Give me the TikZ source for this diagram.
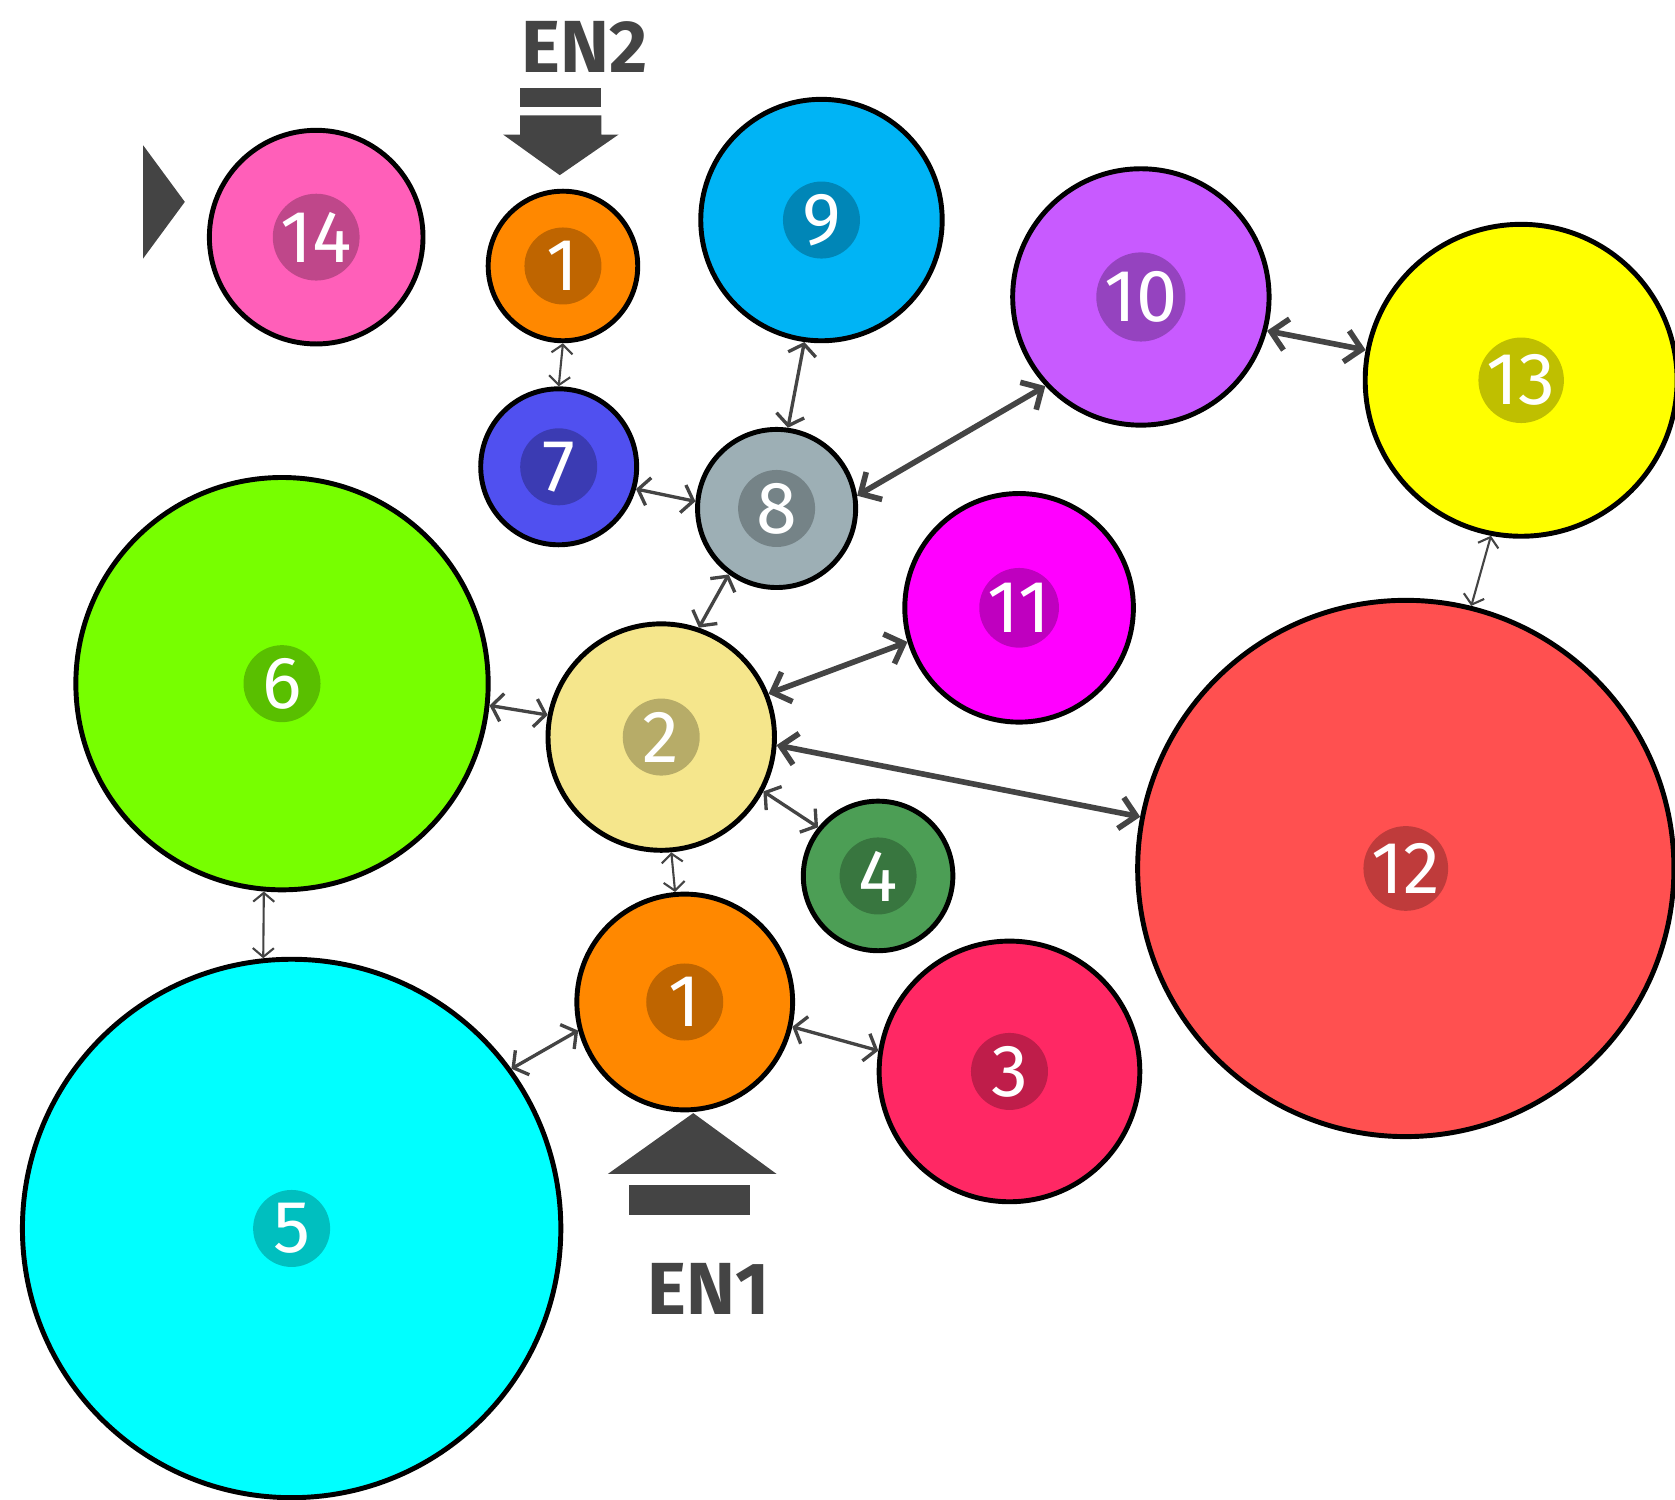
\documentclass[tikz,border=0pt]{standalone}
\usepackage{fontspec}
\setmainfont{Fira Sans}
\usetikzlibrary{arrows.meta}
\definecolor{dk}{RGB}{68,68,68}
\definecolor{c1}{RGB}{255,136,0}
\definecolor{c2}{RGB}{245,230,140}
\definecolor{c3}{RGB}{255,40,100}
\definecolor{c4}{RGB}{76,158,85}
\definecolor{c5}{RGB}{0,255,255}
\definecolor{c6}{RGB}{119,255,0}
\definecolor{c7}{RGB}{80,80,240}
\definecolor{c8}{RGB}{157,175,181}
\definecolor{c9}{RGB}{0,180,245}
\definecolor{c10}{RGB}{200,90,255}
\definecolor{c11}{RGB}{255,0,255}
\definecolor{c12}{RGB}{255,80,80}
\definecolor{c13}{RGB}{255,255,0}
\definecolor{c14}{RGB}{255,95,185}
\begin{document}
\begin{tikzpicture}[line join=round,line cap=round,x=0.01068cm,y=-0.01068cm,
    bub/.style={circle,draw=black,line width=1.4pt,inner sep=0pt,minimum size=#1*0.02136cm},
    lbl/.style={circle,fill=black,fill opacity=.25,text opacity=1,text=white,inner sep=0pt,
      minimum size=0.77cm,font=\fontsize{21}{21}\selectfont},
    lnkthin/.style={draw=dk,line width=.6pt,{Straight Barb[length=2.5pt,width=6pt]}-{Straight Barb[length=2.5pt,width=6pt]}},
    lnkmid/.style={draw=dk,line width=.95pt,{Straight Barb[length=3pt,width=8pt]}-{Straight Barb[length=3pt,width=8pt]}},
    lnkbold/.style={draw=dk,line width=1.6pt,{Straight Barb[length=4.5pt,width=9pt]}-{Straight Barb[length=4.5pt,width=9pt]}},
    entxt/.style={text=dk,font=\bfseries\fontsize{21}{21}\selectfont}]
  \useasboundingbox (0,0) rectangle (1568,1404);
  % bubbles
  \node[bub=100,fill=c14,label={[lbl]center:14}] (n14) at (296,222) {};
  \node[bub=70,fill=c1,label={[lbl]center:1}] (n1top) at (527,249) {};
  \node[bub=113,fill=c9,label={[lbl]center:9}] (n9) at (769,206) {};
  \node[bub=120,fill=c10,label={[lbl]center:10}] (n10) at (1068,278) {};
  \node[bub=146,fill=c13,label={[lbl]center:13}] (n13) at (1424,356) {};
  \node[bub=73,fill=c7,label={[lbl]center:7}] (n7) at (523,437) {};
  \node[bub=74,fill=c8,label={[lbl]center:8}] (n8) at (727,476) {};
  \node[bub=107,fill=c11,label={[lbl]center:11}] (n11) at (954,569) {};
  \node[bub=193,fill=c6,label={[lbl]center:6}] (n6) at (264,640) {};
  \node[bub=106,fill=c2,label={[lbl]center:2}] (n2) at (619,690) {};
  \node[bub=251,fill=c12,label={[lbl]center:12}] (n12) at (1316,813) {};
  \node[bub=70,fill=c4,label={[lbl]center:4}] (n4) at (822,820) {};
  \node[bub=101,fill=c1,label={[lbl]center:1}] (n1bot) at (641,938) {};
  \node[bub=122,fill=c3,label={[lbl]center:3}] (n3) at (945,1003) {};
  \node[bub=252,fill=c5,label={[lbl]center:5}] (n5) at (273,1150) {};
  % links
  \draw[lnkthin] (n1top.-90) -- (n7.90);
  \draw[lnkmid] (n9.262) -- (n8.82);
  \draw[lnkmid] (n7.-16) -- (n8.175);
  \draw[lnkbold] (n8.9) -- (n10.223);
  \draw[lnkbold] (n10.-15) -- (n13.169);
  \draw[lnkmid] (n8.234) -- (n2.71);
  \draw[lnkbold] (n2.22) -- (n11.197);
  \draw[lnkmid] (n6.-6) -- (n2.169);
  \draw[lnkbold] (n2.-4) -- (n12.169);
  \draw[lnkmid] (n2.-28) -- (n4.141);
  \draw[lnkthin] (n13.259) -- (n12.76);
  \draw[lnkthin] (n2.-85) -- (n1bot.95);
  \draw[lnkthin] (n6.265) -- (n5.96);
  \draw[lnkmid] (n5.36) -- (n1bot.195);
  \draw[lnkmid] (n1bot.-13) -- (n3.171);
  % entrances
  \fill[dk] (487,82) rectangle (563,100);
  \fill[dk] (487,108) -- (563,108) -- (563,126) -- (579,126) -- (524,164) -- (471,126) -- (487,126) -- cycle;
  \node[entxt] (en2) at (547,44) {EN2};
  \fill[dk] (649,1042) -- (727,1099) -- (569,1099) -- cycle;
  \fill[dk] (589,1109) rectangle (702,1137);
  \node[entxt] (en1) at (663,1207) {EN1};
  \fill[dk] (134,136) -- (173,189) -- (134,242) -- cycle;
\end{tikzpicture}
\end{document}
